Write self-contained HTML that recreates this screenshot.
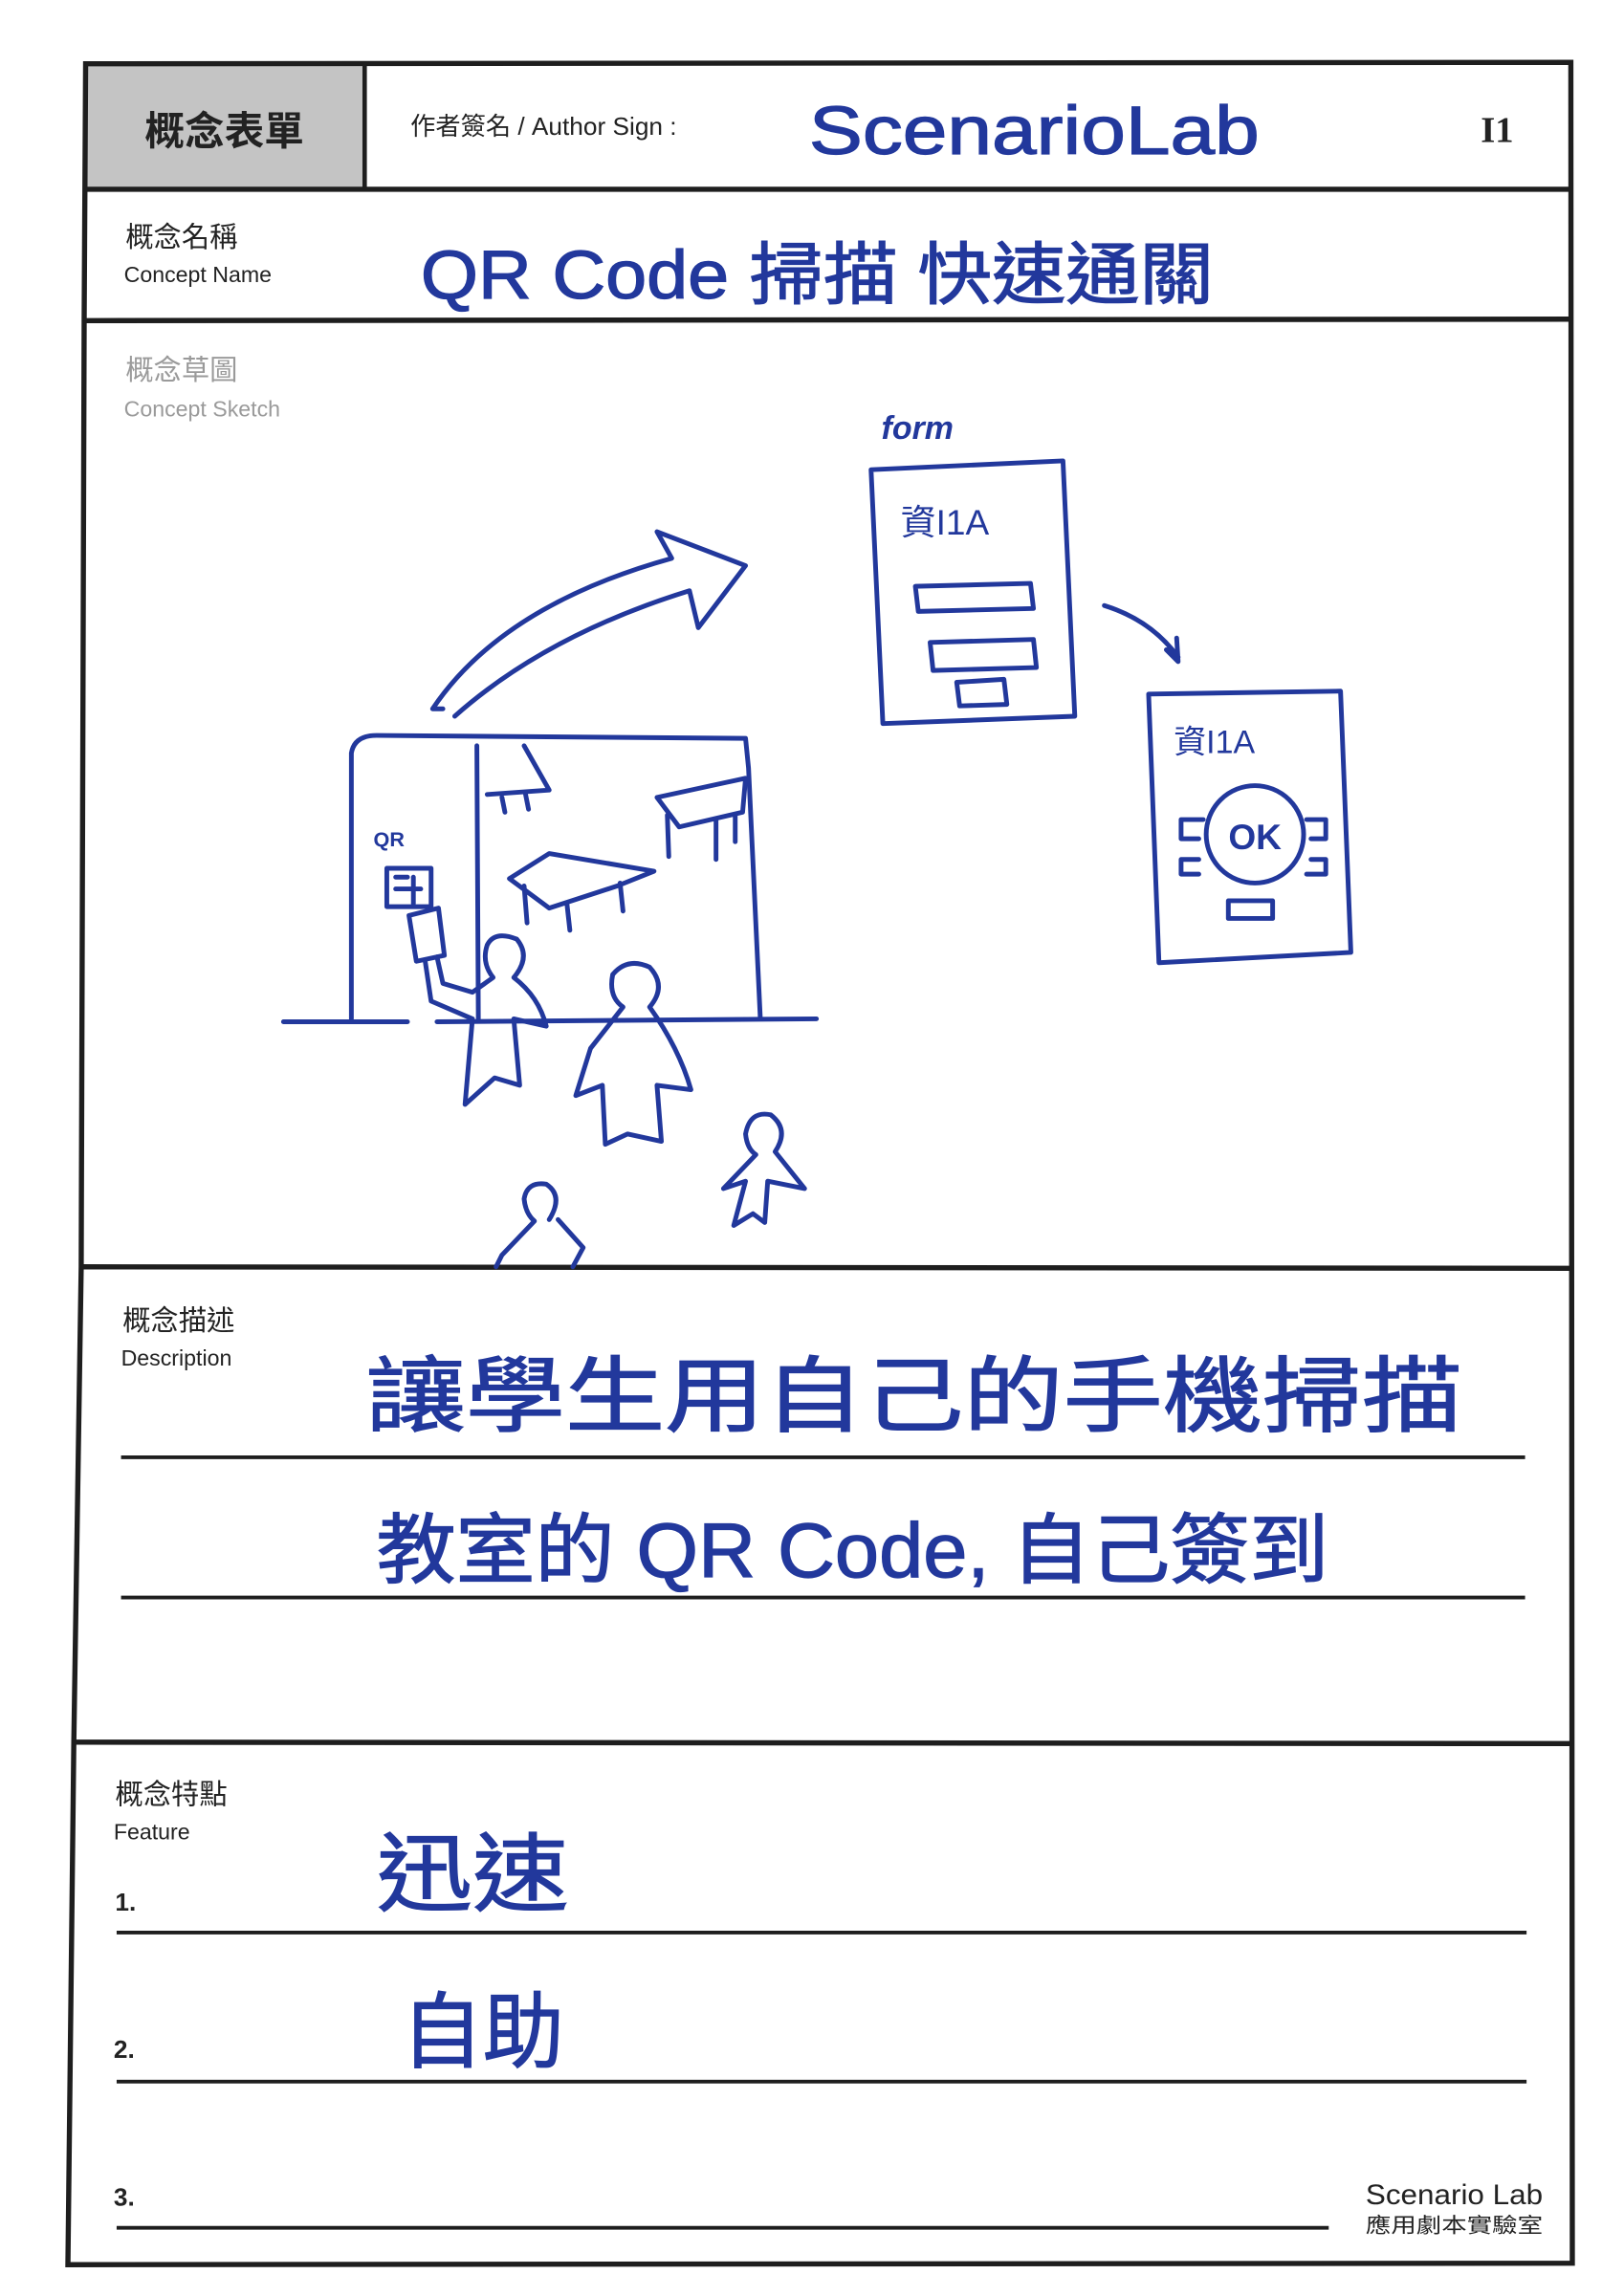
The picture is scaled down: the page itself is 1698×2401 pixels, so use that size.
<!DOCTYPE html>
<html><head><meta charset="utf-8"><style>
html,body{margin:0;padding:0;background:#fff;}
svg{display:block;}
.lbl{font-family:"Liberation Sans","Noto Sans CJK TC",sans-serif;fill:#222;}
.hw{font-family:"Liberation Sans","Noto Sans CJK TC",sans-serif;fill:#22389c;font-weight:normal;stroke:#22389c;stroke-width:0.8;}
.ink{fill:none;stroke:#22389c;stroke-width:3.2;stroke-linecap:round;stroke-linejoin:round;}
</style></head><body>
<svg width="1698" height="2401" viewBox="0 0 1100 1555" xmlns="http://www.w3.org/2000/svg">
<rect x="0" y="0" width="1100" height="1555" fill="#fff"/>
<g fill="none" stroke="#1e1e1e">
<rect x="58" y="44" width="189" height="84" fill="#c4c4c4" stroke="none"/>
<path d="M58,43 L1064,42 L1065,1533 L46,1534 L50,1180 L55,858 L57,217 Z" stroke-width="3.5"/>
<line x1="247" y1="44" x2="247" y2="128" stroke-width="3"/>
<line x1="58" y1="128" x2="1064" y2="128" stroke-width="3.5"/>
<line x1="57" y1="217" x2="1064" y2="216" stroke-width="3.5"/>
<line x1="55" y1="858" x2="1064" y2="859" stroke-width="3.5"/>
<line x1="50" y1="1180" x2="1064" y2="1181" stroke-width="3.5"/>
<line x1="82" y1="987" x2="1033" y2="987" stroke-width="2.5"/>
<line x1="82" y1="1082" x2="1033" y2="1082" stroke-width="2.5"/>
<line x1="79" y1="1309" x2="1034" y2="1309" stroke-width="2.5"/>
<line x1="79" y1="1410" x2="1034" y2="1410" stroke-width="2.5"/>
<line x1="79" y1="1509" x2="900" y2="1509" stroke-width="2.5"/>
</g>
<text class="lbl" x="152" y="98" font-size="27" font-weight="bold" text-anchor="middle">概念表單</text>
<text class="lbl" x="278" y="91" font-size="17">作者簽名 / Author Sign :</text>
<text class="hw" x="548" y="104" font-size="46" textLength="305" lengthAdjust="spacingAndGlyphs" style="font-family:'Liberation Sans',sans-serif">ScenarioLab</text>
<text x="1003" y="96" font-size="25" font-weight="bold" style="font-family:'Liberation Serif',serif" fill="#222">I1</text>
<text class="lbl" x="85" y="167" font-size="19">概念名稱</text>
<text class="lbl" x="84" y="191" font-size="15">Concept Name</text>
<text class="hw" x="285" y="202" font-size="46" textLength="537" lengthAdjust="spacingAndGlyphs">QR Code 掃描 快速通關</text>
<text x="85" y="257" font-size="19" fill="#9a9a9a" style="font-family:'Liberation Sans','Noto Sans CJK TC',sans-serif">概念草圖</text>
<text x="84" y="282" font-size="15" fill="#9a9a9a" style="font-family:'Liberation Sans',sans-serif">Concept Sketch</text>
<g class="ink">
<path d="M192,692 L276,692 M296,692 L553,690"/>
<path d="M238,690 L238,510 Q240,498 255,498 L505,500 L507,520 L515,690"/>
<path d="M323,505 L324,690"/>
<path d="M300,480 L293,480 Q340,410 455,378 L445,360 L505,383 L473,425 L467,400 Q370,430 308,485"/>
<path d="M355,505 L372,535 L330,538 M340,540 L342,550 M356,538 L358,548"/>
<path d="M345,595 L372,578 L443,590 L418,600 L372,615 Z M355,600 L357,625 M420,598 L422,617 M384,612 L386,630"/>
<path d="M445,540 L505,527 L503,550 L460,560 Z M452,552 L453,580 M485,555 L485,582 M498,552 L498,570"/>
<text x="253" y="573" font-size="14" font-weight="bold" fill="#22389c" stroke="none" style="font-family:'Liberation Sans',sans-serif">QR</text>
<rect x="262" y="588" width="30" height="26"/>
<path d="M268,594 L276,594 M268,602 L285,602 M280,594 L280,612"/>
<path d="M277,620 L297,615 L301,647 L282,651 Z"/>
<path d="M288,651 L292,678 L320,690 L315,748 L335,730 L352,735 L348,690 L370,695 Q365,675 348,662 Q360,648 350,636 Q335,630 330,640 Q326,652 334,662 L320,672 L300,666 L296,648"/>
<path d="M440,682 Q452,668 440,655 Q425,648 415,660 Q412,675 422,682 L400,710 L390,742 L408,735 L410,775 L425,768 L448,773 L445,735 L468,738 Q460,710 440,682"/>
<path d="M525,780 Q535,765 522,755 Q508,752 505,768 Q506,778 512,782 L490,805 L505,800 L497,830 L510,822 L518,828 L520,800 L545,805 Z"/>
<path d="M372,826 Q382,810 370,802 Q357,800 355,812 Q356,822 362,827 L340,850 L336,858 M378,826 L395,845 L388,858"/>
<path d="M590,318 L720,312 L728,485 L598,490 Z"/>
<path d="M620,397 L698,395 L700,412 L622,414 Z M630,435 L700,433 L702,452 L632,454 Z M648,462 L680,460 L682,477 L650,478 Z"/>
<path d="M748,410 Q780,420 798,445 M790,440 L798,448 L797,432"/>
<path d="M778,470 L908,468 L915,645 L785,652 Z"/>
<circle cx="850" cy="565" r="33"/>
<path d="M815,555 L800,555 L800,568 L812,568 M885,555 L898,555 L898,568 L888,568 M812,582 L800,582 L800,592 L812,592 M888,582 L898,582 L898,592 L885,592 M832,610 L862,610 L862,622 L832,622 Z"/>
<text x="597" y="297" font-size="22" font-weight="bold" fill="#22389c" stroke="none" style="font-family:'Liberation Sans',sans-serif;font-style:italic">form</text>
<text x="610" y="362" font-size="24" fill="#22389c" stroke="none" style="font-family:'Liberation Sans','Noto Sans CJK TC',sans-serif">資I1A</text>
<text x="795" y="510" font-size="22" fill="#22389c" stroke="none" style="font-family:'Liberation Sans','Noto Sans CJK TC',sans-serif">資I1A</text>
<text x="850" y="575" font-size="24" font-weight="bold" text-anchor="middle" fill="#22389c" stroke="none" style="font-family:'Liberation Sans',sans-serif">OK</text>
</g>
<text class="lbl" x="83" y="901" font-size="19">概念描述</text>
<text class="lbl" x="82" y="925" font-size="15">Description</text>
<text class="hw" x="248" y="965" font-size="56" textLength="742" lengthAdjust="spacingAndGlyphs">讓學生用自己的手機掃描</text>
<text class="hw" x="255" y="1068" font-size="52" textLength="645" lengthAdjust="spacingAndGlyphs">教室的 QR Code, 自己簽到</text>
<text class="lbl" x="78" y="1222" font-size="19">概念特點</text>
<text class="lbl" x="77" y="1246" font-size="15">Feature</text>
<text class="lbl" x="78" y="1294" font-size="17" font-weight="bold">1.</text>
<text class="lbl" x="77" y="1394" font-size="17" font-weight="bold">2.</text>
<text class="lbl" x="77" y="1494" font-size="17" font-weight="bold">3.</text>
<text class="hw" x="255" y="1290" font-size="58" textLength="130" lengthAdjust="spacingAndGlyphs">迅速</text>
<text class="hw" x="272" y="1396" font-size="56" textLength="110" lengthAdjust="spacingAndGlyphs">自助</text>
<text class="lbl" x="925" y="1493" font-size="19" textLength="120" lengthAdjust="spacingAndGlyphs">Scenario Lab</text>
<text class="lbl" x="925" y="1512" font-size="14" textLength="120" lengthAdjust="spacingAndGlyphs">應用劇本實驗室</text>
</svg>
</body></html>
